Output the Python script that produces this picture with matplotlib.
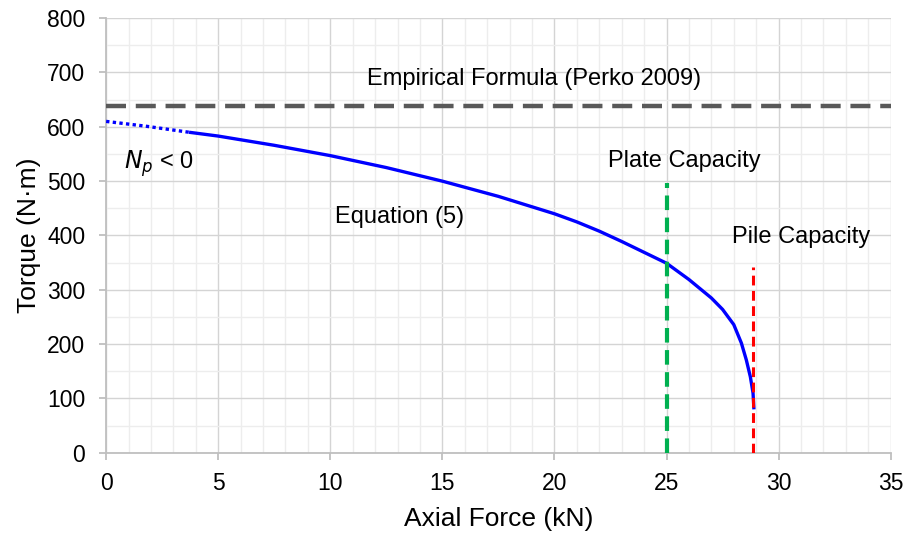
import matplotlib
matplotlib.use("Agg")
import matplotlib.pyplot as plt
from matplotlib.ticker import MultipleLocator

plt.rcParams['font.family'] = ['Liberation Sans', 'DejaVu Sans']

# Data
dotted_x = [0.0, 1.8, 3.7]
dotted_y = [610, 601, 590]
curve_x = [3.7, 5.0, 7.5, 10.0, 12.5, 15.0, 17.5, 20.0, 21.0, 22.0, 23.0, 24.0, 25.0,
           26.0, 27.0, 27.5, 28.0, 28.34, 28.56, 28.74, 28.86, 28.9]
curve_y = [590, 583, 566, 547, 525, 500, 472, 440, 425, 408, 389, 369, 349,
           319, 285, 264, 236, 202, 171, 140, 110, 80]
empirical_torque = 638
plate_capacity = 25.0
plate_top = 496
pile_capacity = 28.86
pile_top = 342

fig = plt.figure(figsize=(9.07, 5.34), dpi=100)
ax = fig.add_axes([0.117, 0.152, 0.865, 0.814])

ax.set_xlim(0, 35)
ax.set_ylim(0, 800)
ax.xaxis.set_major_locator(MultipleLocator(5))
ax.xaxis.set_minor_locator(MultipleLocator(1))
ax.yaxis.set_major_locator(MultipleLocator(100))
ax.yaxis.set_minor_locator(MultipleLocator(50))
ax.grid(which='major', color='#d4d4d4', linewidth=1.0, zorder=0)
ax.grid(which='minor', color='#ededed', linewidth=1.0, zorder=0)
ax.set_axisbelow(True)
for s in ['top', 'right']:
    ax.spines[s].set_visible(False)
for s in ['left', 'bottom']:
    ax.spines[s].set_color('#bfbfbf')
    ax.spines[s].set_linewidth(1.3)
ax.tick_params(which='major', length=5, color='#bfbfbf', width=1.3, labelsize=16.5)
ax.tick_params(axis='x', which='major', pad=8.5)
ax.tick_params(axis='y', which='major', pad=10)
ax.tick_params(which='minor', length=0)

ax.axhline(empirical_torque, color='#595959', linewidth=3.2, linestyle=(0, (4.5, 2.2)), zorder=3)
ax.plot(dotted_x, dotted_y, color='#0000ff', linewidth=2.4, linestyle=(0, (1, 1)), zorder=4)
ax.plot(curve_x, curve_y, color='#0000ff', linewidth=2.4, zorder=4, solid_capstyle='butt',
        solid_joinstyle='round')
ax.plot([plate_capacity, plate_capacity], [0, plate_top], color='#00b050', linewidth=3.0,
        linestyle=(0, (3.5, 1.8)), zorder=5)
ax.plot([pile_capacity, pile_capacity], [0, pile_top], color='#ff0000', linewidth=2.2,
        linestyle=(0, (3.2, 1.8)), zorder=5)

fs = 17
ax.text(19.1, 688, 'Empirical Formula (Perko 2009)', fontsize=fs, ha='center', va='center')
ax.text(0.8, 533, r'$N_p$ < 0', fontsize=fs, ha='left', va='center')
ax.text(13.1, 434, 'Equation (5)', fontsize=fs, ha='center', va='center')
ax.text(25.8, 538, 'Plate Capacity', fontsize=fs, ha='center', va='center')
ax.text(31.0, 397, 'Pile Capacity', fontsize=fs, ha='center', va='center')

ax.set_xlabel('Axial Force (kN)', fontsize=19, labelpad=9)
ax.set_ylabel('Torque (N·m)', fontsize=19, labelpad=4)

fig.savefig('out.png', dpi=100)
